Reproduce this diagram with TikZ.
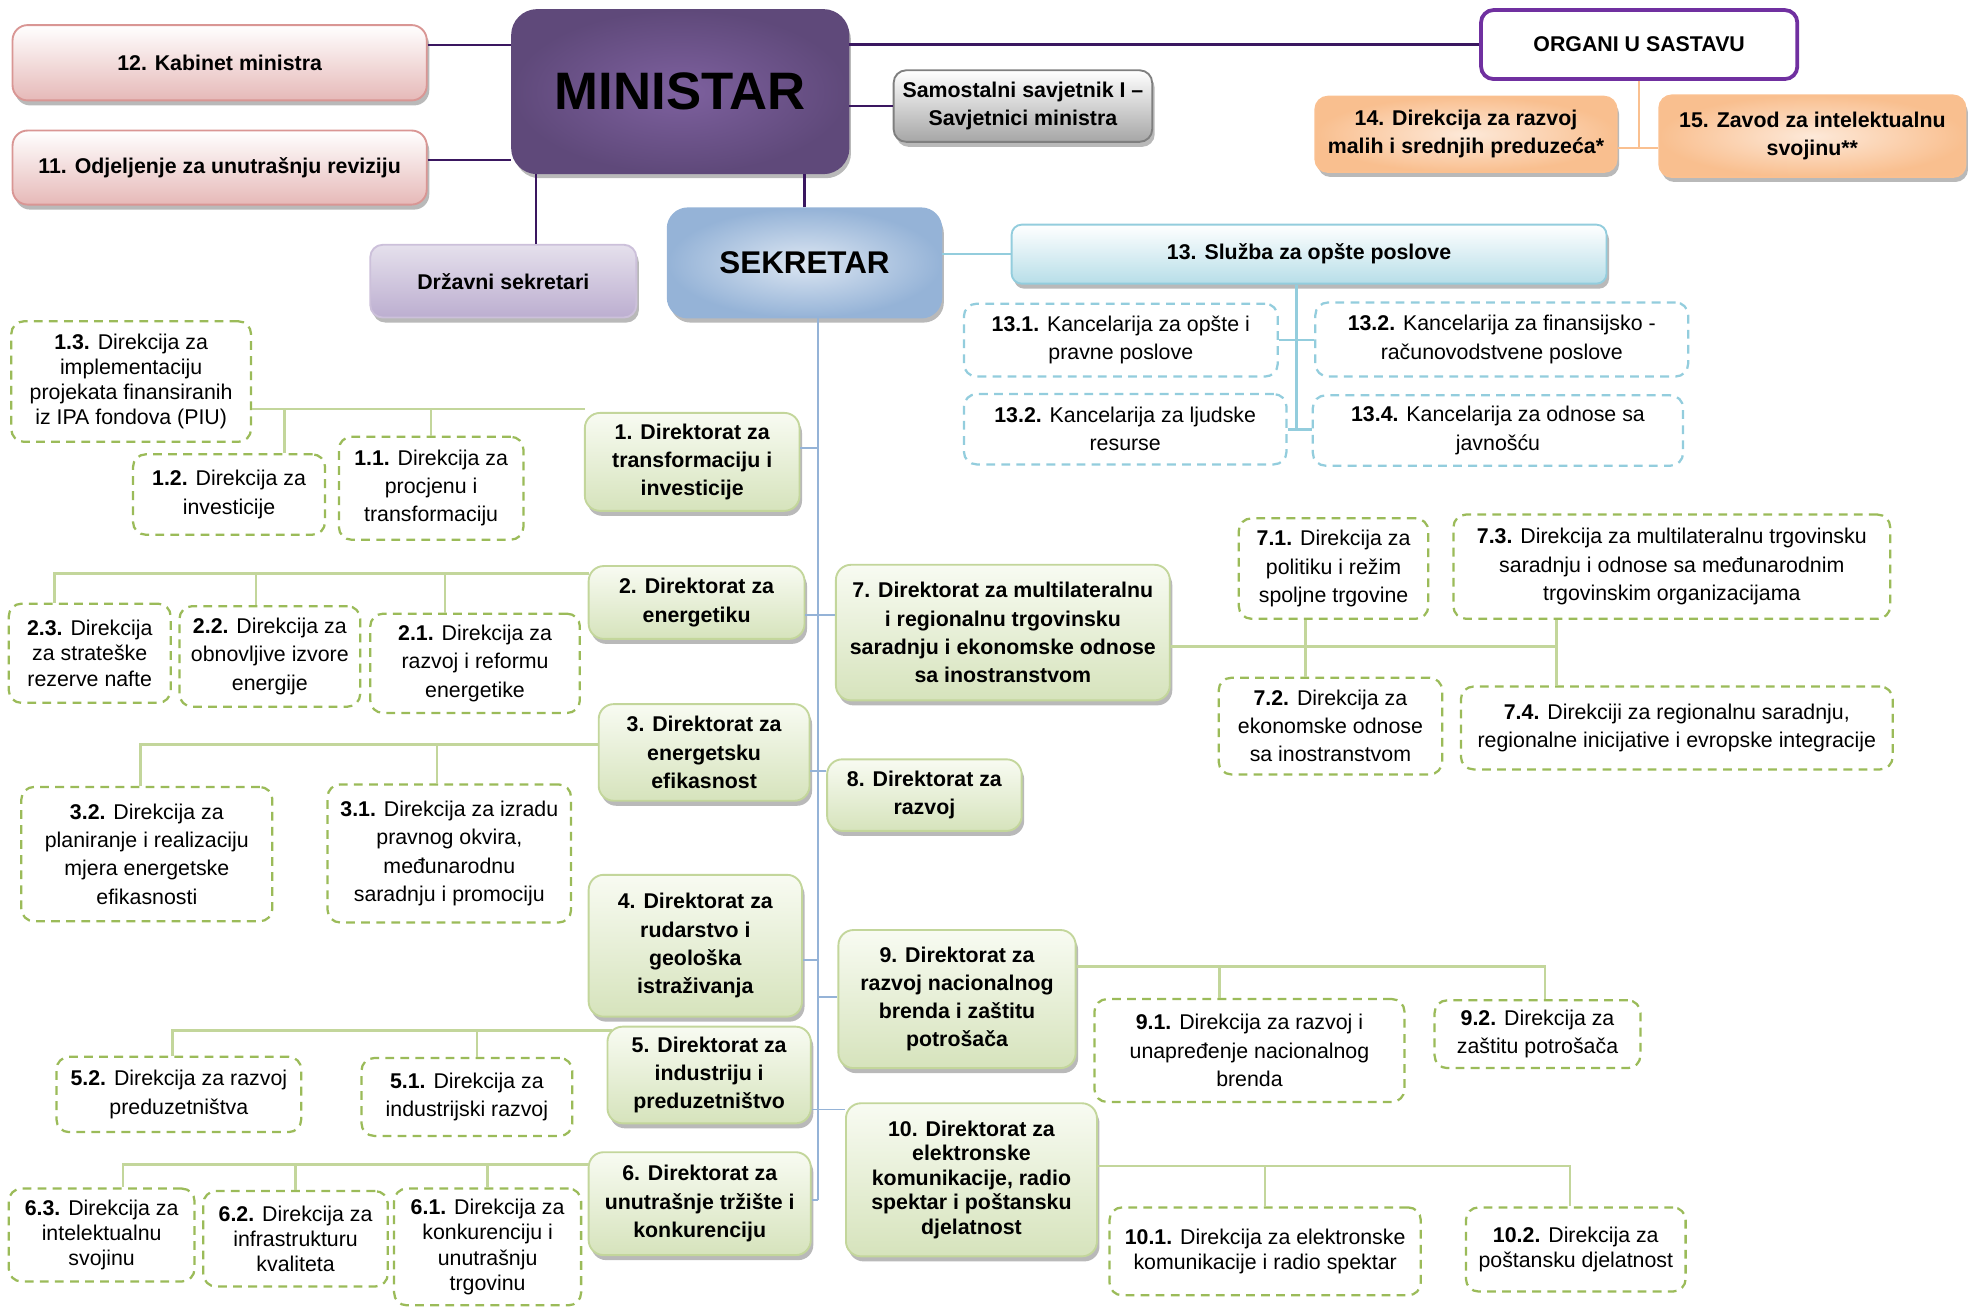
\documentclass[tikz,border=0pt]{standalone}
\usepackage{fontspec}
\setmainfont{Liberation Sans}
\usetikzlibrary{shadows}

\definecolor{dirline}{HTML}{C3D69B}
\definecolor{dirtop}{HTML}{F8FBF2}
\definecolor{dirbot}{HTML}{D6E3BC}
\definecolor{subline}{HTML}{9BBB59}
\definecolor{kancline}{HTML}{93CDDD}
\definecolor{spinecol}{HTML}{95B3D7}
\definecolor{minlinecol}{HTML}{3A1760}
\definecolor{pinkline}{HTML}{D99694}
\definecolor{pinkbot}{HTML}{E6B9B8}
\definecolor{grayline}{HTML}{7F7F7F}
\definecolor{graybot}{HTML}{A6A6A6}
\definecolor{orgline}{HTML}{7030A0}
\definecolor{orout}{HTML}{F9BF8F}
\definecolor{orin}{HTML}{FDE9D9}
\definecolor{orlinecol}{HTML}{FAC090}
\definecolor{lavline}{HTML}{CCC0DA}
\definecolor{lavtop}{HTML}{E5E0EC}
\definecolor{lavbot}{HTML}{BCAED0}
\definecolor{sekin}{HTML}{DCE6F2}
\definecolor{sekout}{HTML}{95B3D7}
\definecolor{sluzbot}{HTML}{B7DEE8}
\definecolor{minin}{HTML}{7E619F}
\definecolor{minout}{HTML}{5F497A}

\begin{document}
\begin{tikzpicture}[x=1pt, y=-1pt,
    txt/.style={align=center, inner sep=0pt, text=black, font=\fontsize{17}{22.5}\selectfont},
    sjena/.style={drop shadow={shadow xshift=2pt, shadow yshift=-4pt, opacity=0.5, fill=black!55}},
    direktorat/.style={txt, sjena, rounded corners=12pt, draw=dirline, line width=1.5pt, top color=dirtop, bottom color=dirbot, font=\fontsize{17}{22.5}\selectfont\bfseries},
    direkcija/.style={txt, rounded corners=10pt, draw=subline, dash pattern=on 7pt off 5pt, line width=1.8pt, fill=white},
    kancelarija/.style={direkcija, draw=kancline},
    tijesno/.style={font=\fontsize{17}{20}\selectfont},
    tijesnob/.style={font=\fontsize{17}{19.5}\selectfont\bfseries},
    kabinet/.style={txt, sjena, rounded corners=12pt, draw=pinkline, line width=1.5pt, top color=white, bottom color=pinkbot, font=\fontsize{17}{22.5}\selectfont\bfseries},
    spine/.style={draw=spinecol, line width=1.5pt},
    grana/.style={draw=dirline, line width=2pt},
    minveza/.style={draw=minlinecol, line width=2pt},
    kancveza/.style={draw=kancline, line width=2pt},
    orveza/.style={draw=orlinecol, line width=2pt}]

\useasboundingbox (0,0) rectangle (1568,1041);

% vrh
\node[kabinet, minimum width=330pt, minimum height=60pt] (k12) at (175,50) {12. Kabinet ministra};
\node[kabinet, minimum width=330pt, minimum height=59pt] (o11) at (175,133.5) {11. Odjeljenje za unutrašnju reviziju};
\node[txt, sjena, rounded corners=20pt, draw=minout, line width=1.5pt, inner color=minin, outer color=minout, minimum width=268pt, minimum height=130pt, font=\fontsize{42}{48}\selectfont\bfseries] (min) at (542,73) {\raisebox{-5pt}{MINISTAR}};
\node[txt, sjena, rounded corners=10pt, draw=grayline, line width=1.5pt, top color=white, bottom color=graybot, minimum width=206pt, minimum height=57pt, font=\fontsize{17}{22.5}\selectfont\bfseries] (sam) at (815,84.5) {Samostalni savjetnik I –\\Savjetnici ministra};
\node[txt, rounded corners=10pt, draw=orgline, line width=3pt, fill=white, minimum width=252pt, minimum height=55pt, font=\fontsize{17}{22.5}\selectfont\bfseries] (org) at (1306,35.5) {ORGANI U SASTAVU};
\node[txt, sjena, rounded corners=10pt, draw=orlinecol, line width=1.5pt, inner color=orin, outer color=orout, minimum width=240pt, minimum height=60pt, font=\fontsize{17}{22.5}\selectfont\bfseries] (d14) at (1168,107) {14. Direkcija za razvoj\\malih i srednjih preduzeća*};
\node[txt, sjena, rounded corners=10pt, draw=orlinecol, line width=1.5pt, inner color=orin, outer color=orout, minimum width=244pt, minimum height=65pt, font=\fontsize{17}{22.5}\selectfont\bfseries] (d15) at (1444,108.5) {15. Zavod za intelektualnu\\svojinu**};
\node[txt, sjena, rounded corners=10pt, draw=lavline, line width=1.5pt, top color=lavtop, bottom color=lavbot, minimum width=212pt, minimum height=58pt, font=\fontsize{17}{22.5}\selectfont\bfseries] (drz) at (401,224) {Državni sekretari};
\node[txt, sjena, rounded corners=16pt, draw=sekout, line width=1.5pt, inner color=sekin, outer color=sekout, minimum width=218pt, minimum height=87pt, font=\fontsize{25}{30}\selectfont\bfseries] (sek) at (641,209.5) {SEKRETAR};
\node[txt, sjena, rounded corners=8pt, draw=kancline, line width=1.5pt, top color=white, bottom color=sluzbot, minimum width=474pt, minimum height=47pt, font=\fontsize{17}{22.5}\selectfont\bfseries] (sl13) at (1043,202.5) {13. Služba za opšte poslove};

% sluzba
\node[kancelarija, minimum width=250pt, minimum height=58pt] (k131) at (893,271) {\textbf{13.1.} Kancelarija za opšte i\\pravne poslove};
\node[kancelarija, minimum width=297pt, minimum height=59pt] (k132) at (1196.5,270.5) {\textbf{13.2.} Kancelarija za finansijsko -\\računovodstvene poslove};
\node[kancelarija, minimum width=257pt, minimum height=56pt] (k133) at (896.5,342) {\textbf{13.2.} Kancelarija za ljudske\\resurse};
\node[kancelarija, minimum width=295pt, minimum height=56pt] (k134) at (1193.5,343) {\textbf{13.4.} Kancelarija za odnose sa\\javnošću};

% direktorati lijevo
\node[direktorat, minimum width=171pt, minimum height=78pt] (d1) at (551.5,368) {1. Direktorat za\\transformaciju i\\investicije};
\node[direktorat, minimum width=172pt, minimum height=58pt] (d2) at (555,480) {2. Direktorat za\\energetiku};
\node[direktorat, minimum width=168pt, minimum height=77pt] (d3) at (561,599.5) {3. Direktorat za\\energetsku\\efikasnost};
\node[direktorat, minimum width=170pt, minimum height=113pt] (d4) at (554,753.5) {4. Direktorat za\\rudarstvo i\\geološka\\istraživanja};
\node[direktorat, minimum width=162pt, minimum height=77pt] (d5) at (565,856.5) {5. Direktorat za\\industriju i\\preduzetništvo};
\node[direktorat, minimum width=177pt, minimum height=82pt] (d6) at (557.5,959) {6. Direktorat za\\unutrašnje tržište i\\konkurenciju};

% direktorati desno
\node[direktorat, minimum width=266pt, minimum height=108pt] (d7) at (799,504) {7. Direktorat za multilateralnu\\i regionalnu trgovinsku\\saradnju i ekonomske odnose\\sa inostranstvom};
\node[direktorat, minimum width=155pt, minimum height=57pt] (d8) at (736.5,633.5) {8. Direktorat za\\razvoj};
\node[direktorat, minimum width=189pt, minimum height=110pt] (d9) at (762.5,796) {9. Direktorat za\\razvoj nacionalnog\\brenda i zaštitu\\potrošača};
\node[direktorat, tijesnob, minimum width=200pt, minimum height=122pt] (d10) at (774,940) {10. Direktorat za\\elektronske\\komunikacije, radio\\spektar i poštansku\\djelatnost};

% direkcije
\node[direkcija, tijesno, minimum width=191pt, minimum height=96pt] (d13) at (104.5,304) {\textbf{1.3.} Direkcija za\\implementaciju\\projekata finansiranih\\iz IPA fondova (PIU)};
\node[direkcija, minimum width=153pt, minimum height=64pt] (d12) at (182.5,394) {\textbf{1.2.} Direkcija za\\investicije};
\node[direkcija, minimum width=147pt, minimum height=82pt] (d11) at (343.5,389) {\textbf{1.1.} Direkcija za\\procjenu i\\transformaciju};
\node[direkcija, tijesno, minimum width=129pt, minimum height=79pt] (d23) at (71.5,520.5) {\textbf{2.3.} Direkcija\\za strateške\\rezerve nafte};
\node[direkcija, minimum width=144pt, minimum height=80pt] (d22) at (215,523) {\textbf{2.2.} Direkcija za\\obnovljive izvore\\energije};
\node[direkcija, minimum width=167pt, minimum height=79pt] (d21) at (378.5,528.5) {\textbf{2.1.} Direkcija za\\razvoj i reformu\\energetike};
\node[direkcija, minimum width=200pt, minimum height=107pt] (d32) at (117,680.5) {\textbf{3.2.} Direkcija za\\planiranje i realizaciju\\mjera energetske\\efikasnosti};
\node[direkcija, minimum width=194pt, minimum height=110pt] (d31) at (358,680) {\textbf{3.1.} Direkcija za izradu\\pravnog okvira,\\međunarodnu\\saradnju i promociju};
\node[direkcija, minimum width=195pt, minimum height=60pt] (d52) at (142.5,872) {\textbf{5.2.} Direkcija za razvoj\\preduzetništva};
\node[direkcija, minimum width=168pt, minimum height=62pt] (d51) at (372,874) {\textbf{5.1.} Direkcija za\\industrijski razvoj};
\node[direkcija, tijesno, minimum width=148pt, minimum height=74pt] (d63) at (81,984) {\textbf{6.3.} Direkcija za\\intelektualnu\\svojinu};
\node[direkcija, tijesno, minimum width=147pt, minimum height=76pt] (d62) at (235.5,987) {\textbf{6.2.} Direkcija za\\infrastrukturu\\kvaliteta};
\node[direkcija, tijesno, minimum width=149pt, minimum height=93pt] (d61) at (388.5,993.5) {\textbf{6.1.} Direkcija za\\konkurenciju i\\unutrašnju\\trgovinu};
\node[direkcija, minimum width=151pt, minimum height=80pt] (d71) at (1062.5,453) {\textbf{7.1.} Direkcija za\\politiku i režim\\spoljne trgovine};
\node[direkcija, minimum width=348pt, minimum height=83pt] (d73) at (1332,451.5) {\textbf{7.3.} Direkcija za multilateralnu trgovinsku\\saradnju i odnose sa međunarodnim\\trgovinskim organizacijama};
\node[direkcija, minimum width=178pt, minimum height=77pt] (d72) at (1060,578.5) {\textbf{7.2.} Direkcija za\\ekonomske odnose\\sa inostranstvom};
\node[direkcija, minimum width=344pt, minimum height=66pt] (d74) at (1336,580) {\textbf{7.4.} Direkciji za regionalnu saradnju,\\regionalne inicijative i evropske integracije};
\node[direkcija, minimum width=247pt, minimum height=82pt] (d91) at (995.5,837) {\textbf{9.1.} Direkcija za razvoj i\\unapređenje nacionalnog\\brenda};
\node[direkcija, minimum width=164pt, minimum height=54pt] (d92) at (1225,824) {\textbf{9.2.} Direkcija za\\zaštitu potrošača};
\node[direkcija, tijesno, minimum width=248pt, minimum height=70pt] (d101) at (1008,997) {\textbf{10.1.} Direkcija za elektronske\\komunikacije i radio spektar};
\node[direkcija, tijesno, minimum width=175pt, minimum height=67pt] (d102) at (1255.5,995.5) {\textbf{10.2.} Direkcija za\\poštansku djelatnost};

% veze ministra
\draw[minveza] ([yshift=14pt]k12.east) -- ([yshift=14pt]k12.east -| min.west);
\draw[minveza] ([yshift=6pt]o11.east) -- ([yshift=6pt]o11.east -| min.west);
\draw[minveza] (org.west) -- (org.west -| min.east);
\draw[minveza] (sam.west) -- (sam.west -| min.east);
\draw[minveza] ([xshift=26pt]drz.north) -- ([xshift=26pt]drz.north |- min.south);
\draw[minveza] (sek.north) -- (sek.north |- min.south);

% organi u sastavu
\coordinate (oj) at (1306,118);
\draw[orveza] (org.south) -- (oj);
\draw[orveza] (oj -| d14.east) -- (oj -| d15.west);

% sluzba
\coordinate (v13) at (1033,342);
\draw[kancveza] (sl13.west) -- (sl13.west -| sek.east);
\draw[kancveza] (v13 |- sl13.south) -- (v13);
\draw[kancveza] (k131.east) -- (k131.east -| k132.west);
\draw[kancveza] (k133.east) -- (k133.east -| k134.west);

% kicma
\coordinate (sp) at ([xshift=11pt]sek.south);
\foreach \n/\y in {1/357,2/490,3/614,4/765,5/884,6/956,7/490,8/614,9/794,10/884}
  \coordinate (s\n) at (652,\y);
\draw[spine] (sp) -- (s6);
\foreach \n in {1,...,6}
  \draw[spine] (s\n) -- (s\n -| d\n.east);
\foreach \n in {7,...,10}
  \draw[spine] (s\n) -- (s\n -| d\n.west);

% grane
\coordinate (g1) at (466,326);
\draw[grana] (g1) -- (g1 -| d13.east);
\draw[grana] ([xshift=44pt]d12.north) -- ([xshift=44pt]d12.north |- g1);
\draw[grana] (d11.north) -- (d11.north |- g1);

\coordinate (g2) at (469,457);
\draw[grana] (g2) -| ([xshift=-28pt]d23.north);
\draw[grana] ([xshift=-11pt]d22.north) -- ([xshift=-11pt]d22.north |- g2);
\draw[grana] ([xshift=-24pt]d21.north) -- ([xshift=-24pt]d21.north |- g2);

\coordinate (g3) at (477,593);
\draw[grana] (g3) -| ([xshift=-5pt]d32.north);
\draw[grana] ([xshift=-10pt]d31.north) -- ([xshift=-10pt]d31.north |- g3);

\coordinate (g5) at (488,821);
\draw[grana] (g5) -| ([xshift=-5pt]d52.north);
\draw[grana] ([xshift=8pt]d51.north) -- ([xshift=8pt]d51.north |- g5);

\coordinate (g6) at (469,928);
\draw[grana] (g6) -| ([xshift=17pt]d63.north);
\draw[grana] (d62.north) -- (d62.north |- g6);
\draw[grana] (d61.north) -- (d61.north |- g6);

\coordinate (g7) at (1240,515);
\coordinate (v71) at (1040,515);
\draw[grana] (g7 -| d7.east) -- (g7);
\draw[grana] (v71 |- d71.south) -- (v71 |- d72.north);
\draw[grana] (g7 |- d73.south) -- (g7 |- d74.north);

\coordinate (g9) at (1231,770);
\draw[grana] (g9 -| d9.east) -- (g9) -- (g9 |- d92.north);
\draw[grana] ([xshift=-24pt]d91.north) -- ([xshift=-24pt]d91.north |- g9);

\coordinate (g10) at (1251,929);
\draw[grana] (g10 -| d10.east) -- (g10) -- (g10 |- d102.north);
\draw[grana] (d101.north) -- (d101.north |- g10);

\end{tikzpicture}
\end{document}
